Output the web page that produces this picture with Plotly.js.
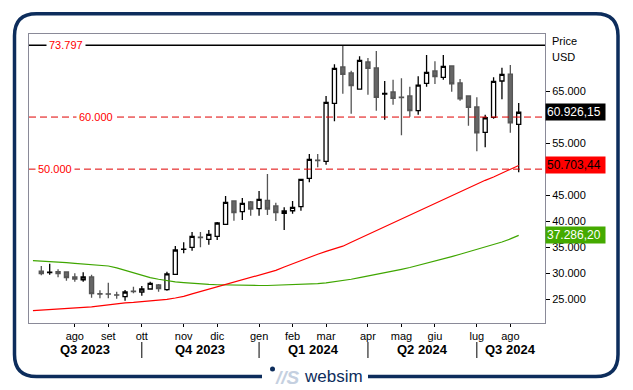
<!DOCTYPE html>
<html><head><meta charset="utf-8">
<script src="https://cdn.plot.ly/plotly-3.0.1.min.js"></script>
<style>html,body{margin:0;padding:0;background:#fff}#chart{width:633px;height:390px}</style>
</head><body><div id="chart"></div>
<script>
// ---- data ----
const dates = ['2023-07-03','2023-07-10','2023-07-17','2023-07-24','2023-07-31','2023-08-07','2023-08-14','2023-08-21','2023-08-28','2023-09-04','2023-09-11','2023-09-18','2023-09-25','2023-10-02','2023-10-09','2023-10-16','2023-10-23','2023-10-30','2023-11-06','2023-11-13','2023-11-20','2023-11-27','2023-12-04','2023-12-11','2023-12-18','2023-12-25','2024-01-01','2024-01-08','2024-01-15','2024-01-22','2024-01-29','2024-02-05','2024-02-12','2024-02-19','2024-02-26','2024-03-04','2024-03-11','2024-03-18','2024-03-25','2024-04-01','2024-04-08','2024-04-15','2024-04-22','2024-04-29','2024-05-06','2024-05-13','2024-05-20','2024-05-27','2024-06-03','2024-06-10','2024-06-17','2024-06-24','2024-07-01','2024-07-08','2024-07-15','2024-07-22','2024-07-29','2024-08-05'];
const open  = [30430,30150,30300,30240,29280,28760,29280,26080,26060,25870,25500,26580,26400,26980,27750,26850,29800,34570,34990,36950,36520,37100,39400,43880,41820,43690,42400,44010,42920,41510,42010,42780,48240,51740,51500,62640,69610,68460,65380,70570,69420,64430,64810,63840,64040,61220,66480,68840,67630,69800,66540,64040,61930,57070,59950,66920,68260,58610];
const high  = [31390,31840,30760,30300,29990,30180,29720,26730,28190,26460,26790,27420,27550,28380,27940,30300,35240,35950,37920,37920,38310,39840,44840,44010,44450,43880,45800,49060,43550,42670,43880,48100,52900,52900,64040,70130,73797,68900,71660,71340,72680,66920,67170,67440,65830,67820,71910,70700,71910,69800,67300,64100,63790,60450,67630,69470,69990,62700];
const low   = [29610,29720,29220,28570,28380,28380,25310,25190,25190,25120,24730,26150,25690,26980,26460,26650,29670,33830,34330,34990,35490,36390,39300,40090,40230,41050,41050,41190,40030,38310,41440,42010,47470,50350,50850,59180,64480,60640,65380,64290,61220,59490,62370,56490,60070,60450,65830,66340,67170,64870,63140,58340,53420,54190,59680,63410,57000,49390];
const close = [29920,30200,29920,29150,28900,29280,26080,25980,25980,25790,26400,26500,26980,28070,27040,29900,34470,34650,37100,36870,37480,39650,43630,41630,43430,42340,44200,42340,41630,41960,42670,48040,51880,51640,62830,69360,68210,66020,70900,69360,63790,64530,63600,63740,61220,66150,68590,67750,69740,66400,63520,61870,56990,59870,66860,68210,58910,60926.15];

const maDates = ['2023-06-26'].concat(dates);
const maRed   = [22810,22900,23000,23100,23200,23300,23400,23550,23750,23950,24150,24300,24400,24520,24680,24850,25000,25250,25550,26050,26500,26950,27400,27850,28300,28750,29200,29650,30050,30550,31200,31850,32500,33100,33650,34200,34700,35200,35950,36700,37450,38200,38950,39700,40450,41200,41950,42700,43450,44200,44950,45700,46450,47200,47850,48500,49200,49950,50703.44];
const maGreen = [32410,32350,32250,32150,32050,31900,31800,31700,31600,31400,31050,30550,30050,29550,29150,28850,28550,28350,28200,28050,27950,27850,27800,27750,27700,27700,27650,27650,27650,27700,27700,27750,27800,27900,28000,28150,28350,28600,28850,29150,29450,29750,30050,30400,30750,31100,31500,31900,32300,32750,33200,33650,34100,34550,35000,35500,36000,36600,37286.20];

const monthTickDates = ['2023-07-31','2023-08-28','2023-09-25','2023-10-30','2023-11-27','2024-01-01','2024-01-29','2024-02-26','2024-04-01','2024-04-29','2024-05-27','2024-07-01','2024-07-29'];
const monthLabels = ['ago','set','ott','nov','dic','gen','feb','mar','apr','mag','giu','lug','ago'];
const quarterBreaks = ['2023-09-25','2024-01-01','2024-04-01','2024-07-01'];
const quarterLabels = ['Q3 2023','Q4 2023','Q1 2024','Q2 2024','Q3 2024'];
const yTicks = [25000,30000,35000,40000,45000,50000,55000,60000,65000];
const yTickHidden = [50000, 60000]; // covered by the last-value boxes
const yearHigh = 73797;
const levelLines = [60000, 50000];

// ---- helpers ----
const W = 633, H = 390, PL = 29, PR = 545, PT = 34, PB = 323;
const px = x => (x - PL) / (PR - PL);
const py = y => (PB - y) / (PB - PT);
const WEEK = 7 * 864e5;
const toStr = ms => new Date(ms).toISOString().replace('T', ' ').slice(0, 19);
function fmtNum(v, d) {
  const s = v.toFixed(d || 0);
  let [i, f] = s.split('.');
  i = i.replace(/\B(?=(\d{3})+(?!\d))/g, '.');
  return f ? i + ',' + f : i;
}
const t0 = Date.parse(dates[0]), t1 = Date.parse(dates[dates.length - 1]);
const xr0 = t0 - 1.47 * WEEK, xr1 = t1 + 3.14 * WEEK;

const FONT = 'Liberation Sans, Arial, sans-serif';
const NAVY = '#0d2d5c';

const traces = [
  {type: 'scatter', mode: 'lines', x: maDates, y: maGreen, line: {color: '#3fa600', width: 1.2}, hoverinfo: 'skip'},
  {type: 'scatter', mode: 'lines', x: maDates, y: maRed, line: {color: '#ff0000', width: 1.2}, hoverinfo: 'skip'},
  {type: 'candlestick', x: dates, open: open, high: high, low: low, close: close,
   increasing: {line: {color: '#000000', width: 1.3}, fillcolor: '#ffffff'},
   decreasing: {line: {color: '#555555', width: 1.3}, fillcolor: '#666666'},
   whiskerwidth: 0, hoverinfo: 'skip'}
];

const shapes = [];
const annotations = [];

// 52w high line
shapes.push({type: 'line', xref: 'paper', yref: 'y', x0: 0, x1: 1, y0: yearHigh, y1: yearHigh, line: {color: '#000', width: 1.5}});
annotations.push({xref: 'paper', yref: 'y', x: px(46), y: yearHigh, xanchor: 'left', yanchor: 'middle', text: fmtNum(yearHigh), showarrow: false, bgcolor: '#fff', borderpad: 2, font: {family: FONT, size: 11, color: '#ff0000'}});

// level lines
const levelLabelX = [76, 35];
levelLines.forEach((v, i) => {
  shapes.push({type: 'line', xref: 'paper', yref: 'y', x0: 0, x1: 1, y0: v, y1: v, line: {color: '#e00000', width: 1, dash: '7px,4px'}});
  annotations.push({xref: 'paper', yref: 'y', x: px(levelLabelX[i]), y: v, xanchor: 'left', yanchor: 'middle', text: fmtNum(v), showarrow: false, bgcolor: '#fff', borderpad: 2, font: {family: FONT, size: 11, color: '#ff0000'}});
});

// last value boxes
const lastBoxes = [
  {v: close[close.length - 1], bg: '#000000', fg: '#ffffff'},
  {v: maRed[maRed.length - 1], bg: '#ff0000', fg: '#000000'},
  {v: maGreen[maGreen.length - 1], bg: '#44aa00', fg: '#ffffff'}
];
lastBoxes.forEach(b => {
  annotations.push({xref: 'paper', yref: 'y', x: 1, y: b.v, xanchor: 'left', yanchor: 'middle', text: fmtNum(b.v, 2), showarrow: false, bgcolor: b.bg, borderpad: 1, width: 57, align: 'left', font: {family: FONT, size: 12, color: b.fg}});
});

// Price / USD
annotations.push({xref: 'paper', yref: 'paper', x: px(550), y: py(41), xanchor: 'left', yanchor: 'middle', text: 'Price', showarrow: false, font: {family: FONT, size: 11, color: '#000'}});
annotations.push({xref: 'paper', yref: 'paper', x: px(550), y: py(57), xanchor: 'left', yanchor: 'middle', text: 'USD', showarrow: false, font: {family: FONT, size: 11, color: '#000'}});

// quarter separators and labels
const qb = [xr0].concat(quarterBreaks.map(d => Date.parse(d)), [xr1]);
quarterBreaks.forEach(d => {
  shapes.push({type: 'line', xref: 'x', yref: 'paper', x0: d, x1: d, y0: py(342), y1: py(358), line: {color: '#000', width: 1}});
});
quarterLabels.forEach((q, i) => {
  annotations.push({xref: 'x', yref: 'paper', x: toStr((qb[i] + qb[i + 1]) / 2), y: py(349), xanchor: 'center', yanchor: 'middle', text: '<b>' + q + '</b>', showarrow: false, font: {family: FONT, size: 13, color: '#000'}});
});

// outer frame with rounded corners (gap for logo)
const fl = 14.5, fr = 618, ft = 13.7, fb = 376.5, rr = 22, gapL = 262, gapR = 368;
const P = (x, y) => px(x) + ',' + py(y);
const framePath = 'M' + P(gapL, fb) + ' L' + P(fl + rr, fb) + ' Q' + P(fl, fb) + ' ' + P(fl, fb - rr) +
  ' L' + P(fl, ft + rr) + ' Q' + P(fl, ft) + ' ' + P(fl + rr, ft) + ' L' + P(fr - rr, ft) +
  ' Q' + P(fr, ft) + ' ' + P(fr, ft + rr) + ' L' + P(fr, fb - rr) + ' Q' + P(fr, fb) + ' ' + P(fr - rr, fb) +
  ' L' + P(gapR, fb);
shapes.push({type: 'path', xref: 'paper', yref: 'paper', path: framePath, line: {color: NAVY, width: 3.5}});

// logo
shapes.push({type: 'circle', xref: 'paper', yref: 'paper', x0: px(270), x1: px(275), y0: py(366.5), y1: py(371.5), fillcolor: NAVY, line: {width: 0}});
annotations.push({xref: 'paper', yref: 'paper', x: px(287), y: py(377), xanchor: 'center', yanchor: 'middle', text: '<b><i>//S</i></b>', showarrow: false, font: {family: FONT, size: 19, color: '#c5d0e0'}});
annotations.push({xref: 'paper', yref: 'paper', x: px(333), y: py(376), xanchor: 'center', yanchor: 'middle', text: 'websim', showarrow: false, font: {family: FONT, size: 17, color: NAVY}});

const layout = {
  width: W, height: H,
  margin: {l: PL, r: W - PR, t: PT, b: H - PB, pad: 0},
  paper_bgcolor: '#ffffff', plot_bgcolor: '#ffffff',
  showlegend: false,
  separators: ',.',
  font: {family: FONT, size: 11, color: '#000'},
  xaxis: {
    type: 'date', range: [toStr(xr0), toStr(xr1)], rangeslider: {visible: false},
    tickmode: 'array', tickvals: monthTickDates, ticktext: monthLabels,
    ticks: 'outside', ticklen: 3, tickcolor: '#000', tickfont: {family: FONT, size: 11, color: '#000'},
    showgrid: false, zeroline: false, showline: true, mirror: true, linecolor: '#8a8a98', linewidth: 1
  },
  yaxis: {
    side: 'right', range: [20450, 75950],
    tickmode: 'array', tickvals: yTicks,
    ticktext: yTicks.map(v => yTickHidden.indexOf(v) >= 0 ? '' : fmtNum(v)),
    ticks: 'outside', ticklen: 4, tickcolor: '#000', tickfont: {family: FONT, size: 11, color: '#000'},
    showgrid: false, zeroline: false, showline: true, mirror: true, linecolor: '#8a8a98', linewidth: 1
  },
  shapes: shapes,
  annotations: annotations
};

Plotly.newPlot('chart', traces, layout, {displayModeBar: false, staticPlot: true});
</script>
</body></html>
